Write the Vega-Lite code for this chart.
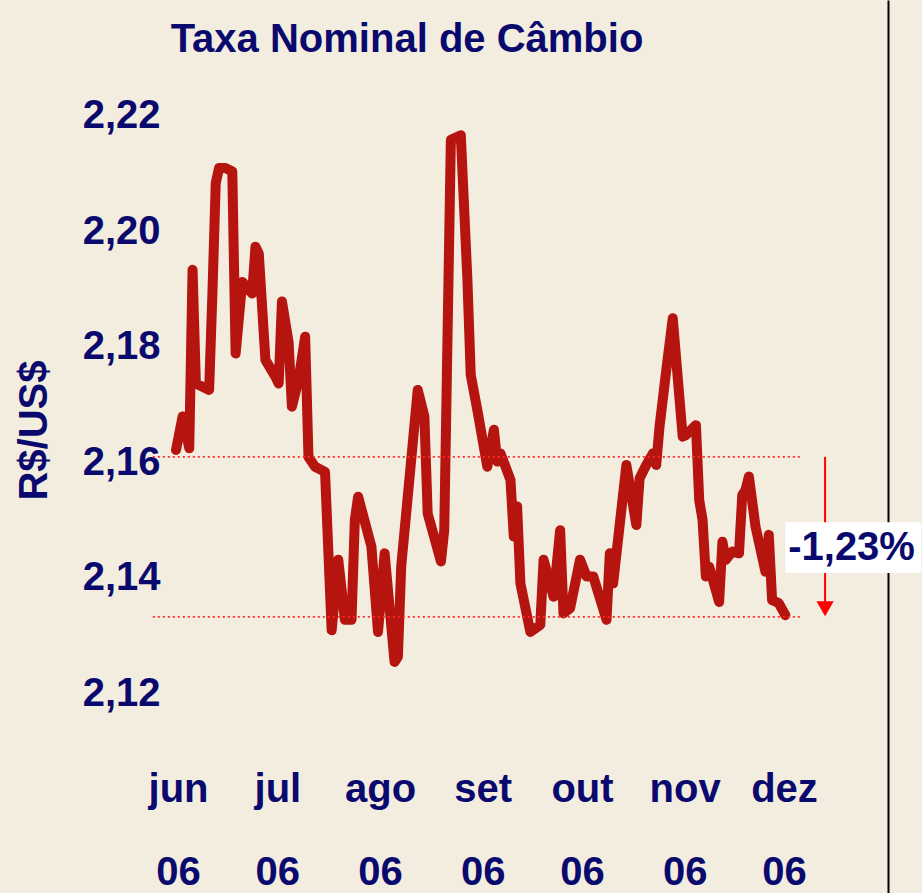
{
  "$schema": "https://vega.github.io/schema/vega-lite/v6.json",
  "width": 712,
  "height": 893,
  "autosize": {"type": "none"},
  "padding": {"left": 176, "top": 0, "right": 34, "bottom": 0},
  "background": "#f3ede0",
  "config": {"view": {"stroke": null}, "font": "Liberation Sans"},
  "title": {
    "text": "Taxa Nominal de Câmbio",
    "font": "Liberation Sans",
    "fontSize": 40,
    "fontWeight": "bold",
    "color": "#0a0a6e",
    "anchor": "middle",
    "dx": -125,
    "dy": 42,
    "offset": -50,
    "baseline": "alphabetic"
  },
  "datasets": {
    "fx": [
      {"date": "2006-06-01", "rate": 2.1621},
      {"date": "2006-06-03", "rate": 2.1679},
      {"date": "2006-06-05", "rate": 2.1624},
      {"date": "2006-06-06", "rate": 2.1933},
      {"date": "2006-06-07", "rate": 2.1736},
      {"date": "2006-06-11", "rate": 2.1725},
      {"date": "2006-06-12", "rate": 2.1892},
      {"date": "2006-06-13", "rate": 2.2083},
      {"date": "2006-06-14", "rate": 2.2109},
      {"date": "2006-06-16", "rate": 2.2109},
      {"date": "2006-06-18", "rate": 2.2103},
      {"date": "2006-06-19", "rate": 2.1788},
      {"date": "2006-06-21", "rate": 2.1912},
      {"date": "2006-06-24", "rate": 2.1892},
      {"date": "2006-06-25", "rate": 2.1973},
      {"date": "2006-06-26", "rate": 2.1961},
      {"date": "2006-06-28", "rate": 2.1777},
      {"date": "2006-07-01", "rate": 2.1748},
      {"date": "2006-07-02", "rate": 2.1736},
      {"date": "2006-07-03", "rate": 2.1878},
      {"date": "2006-07-05", "rate": 2.1808},
      {"date": "2006-07-06", "rate": 2.1696},
      {"date": "2006-07-08", "rate": 2.1742},
      {"date": "2006-07-10", "rate": 2.1817},
      {"date": "2006-07-11", "rate": 2.1609},
      {"date": "2006-07-13", "rate": 2.1592},
      {"date": "2006-07-16", "rate": 2.1583},
      {"date": "2006-07-18", "rate": 2.1309},
      {"date": "2006-07-20", "rate": 2.1431},
      {"date": "2006-07-22", "rate": 2.1327},
      {"date": "2006-07-24", "rate": 2.1327},
      {"date": "2006-07-25", "rate": 2.15},
      {"date": "2006-07-26", "rate": 2.154},
      {"date": "2006-07-30", "rate": 2.1454},
      {"date": "2006-08-01", "rate": 2.1306},
      {"date": "2006-08-03", "rate": 2.1442},
      {"date": "2006-08-06", "rate": 2.1254},
      {"date": "2006-08-07", "rate": 2.1263},
      {"date": "2006-08-08", "rate": 2.1419},
      {"date": "2006-08-13", "rate": 2.1725},
      {"date": "2006-08-15", "rate": 2.1679},
      {"date": "2006-08-16", "rate": 2.1511},
      {"date": "2006-08-20", "rate": 2.1428},
      {"date": "2006-08-21", "rate": 2.1482},
      {"date": "2006-08-23", "rate": 2.2158},
      {"date": "2006-08-26", "rate": 2.2166},
      {"date": "2006-08-28", "rate": 2.1915},
      {"date": "2006-08-29", "rate": 2.1751},
      {"date": "2006-08-31", "rate": 2.169},
      {"date": "2006-09-03", "rate": 2.1592},
      {"date": "2006-09-05", "rate": 2.1656},
      {"date": "2006-09-06", "rate": 2.1601},
      {"date": "2006-09-07", "rate": 2.1615},
      {"date": "2006-09-10", "rate": 2.1569},
      {"date": "2006-09-11", "rate": 2.1471},
      {"date": "2006-09-12", "rate": 2.1523},
      {"date": "2006-09-13", "rate": 2.139},
      {"date": "2006-09-16", "rate": 2.1306},
      {"date": "2006-09-19", "rate": 2.1318},
      {"date": "2006-09-20", "rate": 2.1431},
      {"date": "2006-09-23", "rate": 2.1367},
      {"date": "2006-09-25", "rate": 2.1482},
      {"date": "2006-09-26", "rate": 2.1338},
      {"date": "2006-09-28", "rate": 2.1347},
      {"date": "2006-10-01", "rate": 2.1431},
      {"date": "2006-10-03", "rate": 2.1402},
      {"date": "2006-10-05", "rate": 2.1402},
      {"date": "2006-10-09", "rate": 2.1327},
      {"date": "2006-10-10", "rate": 2.1442},
      {"date": "2006-10-11", "rate": 2.139},
      {"date": "2006-10-15", "rate": 2.1595},
      {"date": "2006-10-18", "rate": 2.1491},
      {"date": "2006-10-19", "rate": 2.1572},
      {"date": "2006-10-21", "rate": 2.1595},
      {"date": "2006-10-23", "rate": 2.1615},
      {"date": "2006-10-24", "rate": 2.1595},
      {"date": "2006-10-25", "rate": 2.1661},
      {"date": "2006-10-27", "rate": 2.1757},
      {"date": "2006-10-29", "rate": 2.1849},
      {"date": "2006-11-01", "rate": 2.1644},
      {"date": "2006-11-02", "rate": 2.1647},
      {"date": "2006-11-05", "rate": 2.1664},
      {"date": "2006-11-06", "rate": 2.1534},
      {"date": "2006-11-07", "rate": 2.15},
      {"date": "2006-11-08", "rate": 2.1402},
      {"date": "2006-11-09", "rate": 2.1419},
      {"date": "2006-11-12", "rate": 2.1358},
      {"date": "2006-11-13", "rate": 2.1462},
      {"date": "2006-11-14", "rate": 2.1431},
      {"date": "2006-11-16", "rate": 2.1445},
      {"date": "2006-11-18", "rate": 2.1442},
      {"date": "2006-11-19", "rate": 2.1543},
      {"date": "2006-11-20", "rate": 2.1552},
      {"date": "2006-11-21", "rate": 2.1575},
      {"date": "2006-11-23", "rate": 2.1488},
      {"date": "2006-11-26", "rate": 2.141},
      {"date": "2006-11-27", "rate": 2.1474},
      {"date": "2006-11-28", "rate": 2.1361},
      {"date": "2006-11-30", "rate": 2.1356},
      {"date": "2006-12-02", "rate": 2.1335}
    ],
    "refs": [
      {"start": "2006-05-25", "end": "2006-12-07", "level": 2.1609},
      {"start": "2006-05-25", "end": "2006-12-07", "level": 2.1332}
    ],
    "arrow": [
      {"date": "2006-12-14", "top": 2.1609, "bottom": 2.1358, "tip": 2.1346}
    ],
    "note": [
      {"x1": "2006-12-02", "x2": "2007-01-12", "y1": 2.1496, "y2": 2.1408, "xm": "2006-12-22", "ym": 2.1452, "label": "-1,23%"}
    ]
  },
  "resolve": {"axis": {"y": "independent"}},
  "layer": [
    {
      "data": {"name": "fx"},
      "mark": {"type": "line", "color": "#b5140f", "strokeWidth": 10, "strokeCap": "round", "strokeJoin": "round"},
      "encoding": {
        "x": {
          "field": "date", "type": "temporal",
          "scale": {"type": "utc", "domain": [{"year": 2006, "month": 6, "date": 1, "utc": true}, {"year": 2007, "month": 1, "date": 2, "utc": true}], "nice": false},
          "axis": {
            "orient": "bottom",
            "values": [
              {"year": 2006, "month": 6, "date": 1, "utc": true},
              {"year": 2006, "month": 7, "date": 1, "utc": true},
              {"year": 2006, "month": 8, "date": 1, "utc": true},
              {"year": 2006, "month": 9, "date": 1, "utc": true},
              {"year": 2006, "month": 10, "date": 1, "utc": true},
              {"year": 2006, "month": 11, "date": 1, "utc": true},
              {"year": 2006, "month": 12, "date": 1, "utc": true}
            ],
            "labelExpr": "[['jan','fev','mar','abr','mai','jun','jul','ago','set','out','nov','dez'][utcmonth(datum.value)], utcFormat(datum.value, '%y')]",
            "labelFont": "Liberation Sans",
            "labelFontSize": 40,
            "labelFontWeight": "bold",
            "labelColor": "#0a0a6e",
            "labelLineHeight": 83,
            "labelBaseline": "alphabetic",
            "labelAlign": "center",
            "labelPadding": 0,
            "labelOffset": 2,
            "labelOverlap": false,
            "labelFlush": false,
            "labelBound": false,
            "offset": -92,
            "ticks": false,
            "tickSize": 0,
            "domain": false,
            "grid": false,
            "title": null
          }
        },
        "y": {
          "field": "rate", "type": "quantitative",
          "scale": {"domain": [2.0854, 2.24], "nice": false, "zero": false},
          "axis": {
            "orient": "left",
            "values": [2.12, 2.14, 2.16, 2.18, 2.2, 2.22],
            "labelExpr": "replace(format(datum.value, '.2f'), '.', ',')",
            "labelFont": "Liberation Sans",
            "labelFontSize": 40,
            "labelFontWeight": "bold",
            "labelColor": "#0a0a6e",
            "labelAlign": "right",
            "labelBaseline": "middle",
            "labelPadding": 16,
            "labelOverlap": false,
            "labelFlush": false,
            "labelBound": false,
            "ticks": false,
            "domain": false,
            "grid": false,
            "title": "R$/US$",
            "titleFont": "Liberation Sans",
            "titleFontSize": 40,
            "titleFontWeight": "bold",
            "titleColor": "#0a0a6e",
            "titleAngle": -90,
            "titleAlign": "center",
            "titleBaseline": "middle",
            "titleX": -142,
            "titleY": 430
          }
        }
      }
    },
    {
      "data": {"name": "refs"},
      "mark": {"type": "rule", "color": "#ff2a2a", "strokeWidth": 1.6, "strokeDash": [2, 3]},
      "encoding": {
        "x": {"field": "start", "type": "temporal", "scale": {"type": "utc", "domain": [{"year": 2006, "month": 6, "date": 1, "utc": true}, {"year": 2007, "month": 1, "date": 2, "utc": true}], "nice": false}},
        "x2": {"field": "end"},
        "y": {
          "field": "level", "type": "quantitative",
          "scale": {"domain": [2.0854, 2.24], "nice": false, "zero": false},
          "axis": {"orient": "right", "labels": false, "ticks": false, "grid": false, "domain": true, "domainColor": "#000000", "domainWidth": 2, "title": null}
        }
      }
    },
    {
      "data": {"name": "arrow"},
      "mark": {"type": "rule", "color": "#ff0000", "strokeWidth": 2},
      "encoding": {
        "x": {"field": "date", "type": "temporal"},
        "y": {"field": "top", "type": "quantitative", "axis": null},
        "y2": {"field": "bottom"}
      }
    },
    {
      "data": {"name": "arrow"},
      "mark": {"type": "point", "shape": "triangle-down", "filled": true, "size": 300, "color": "#ff0000", "opacity": 1},
      "encoding": {
        "x": {"field": "date", "type": "temporal"},
        "y": {"field": "tip", "type": "quantitative", "axis": null}
      }
    },
    {
      "data": {"name": "note"},
      "mark": {"type": "rect", "color": "#ffffff", "opacity": 1},
      "encoding": {
        "x": {"field": "x1", "type": "temporal"},
        "x2": {"field": "x2"},
        "y": {"field": "y1", "type": "quantitative", "axis": null},
        "y2": {"field": "y2"}
      }
    },
    {
      "data": {"name": "note"},
      "mark": {"type": "text", "font": "Liberation Sans", "fontSize": 40, "fontWeight": "bold", "color": "#0a0a6e", "align": "center", "baseline": "middle"},
      "encoding": {
        "x": {"field": "xm", "type": "temporal"},
        "y": {"field": "ym", "type": "quantitative", "axis": null},
        "text": {"field": "label"}
      }
    }
  ]
}
